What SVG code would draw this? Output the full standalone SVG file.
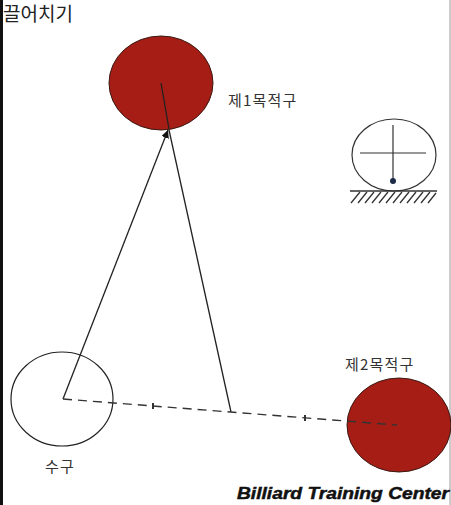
<svg xmlns="http://www.w3.org/2000/svg" width="451" height="505" viewBox="0 0 451 505">
<defs>
<style>
.ln{stroke:#222;stroke-width:1.3;fill:none}
.dash{stroke:#333;stroke-width:1.4;fill:none;stroke-dasharray:9,6}
.red{fill:#a51d15;stroke:#3a1a14;stroke-width:1}
.cue{fill:none;stroke:#222;stroke-width:1.2}
.lbl{font-family:"Noto Sans CJK KR","Noto Sans",sans-serif;font-size:15px;letter-spacing:1.2px;fill:#333}
</style>
<marker id="ah" viewBox="0 0 10 10" refX="10" refY="5" markerWidth="8" markerHeight="8" orient="auto" markerUnits="userSpaceOnUse">
<path d="M0,0 L10,5 L0,10 z" fill="#111"/>
</marker>
</defs>
<rect width="451" height="505" fill="#fff"/>
<rect x="0" y="0" width="3" height="505" fill="#111"/>
<line x1="450" y1="0" x2="450" y2="505" stroke="#999" stroke-width="1"/>
<text x="3" y="21" font-family="Noto Sans CJK KR,sans-serif" font-size="19" fill="#222">끌어치기</text>

<g id="ball1">
<ellipse class="red" cx="161" cy="83" rx="52" ry="47"/>
<text class="lbl" x="228" y="106">제1목적구</text>
</g>
<g id="cueball">
<ellipse class="cue" cx="62" cy="399" rx="51" ry="47"/>
<text class="lbl" x="45" y="472">수구</text>
</g>
<g id="ball2">
<ellipse class="red" cx="399" cy="425" rx="52" ry="47"/>
<text class="lbl" x="345" y="370">제2목적구</text>
</g>

<g id="connectors">
<line class="ln" x1="63" y1="399" x2="168" y2="130" marker-end="url(#ah)"/>
<line class="ln" x1="161" y1="83" x2="169" y2="129"/>
<polyline class="ln" points="169,130 231,412"/>
<line class="dash" x1="63" y1="399" x2="397" y2="425"/>
<line x1="153" y1="403" x2="153" y2="409" stroke="#333" stroke-width="2"/>
<line x1="305" y1="415" x2="305" y2="421" stroke="#333" stroke-width="2"/>
</g>

<g id="sideview">
<ellipse cx="394" cy="155" rx="42" ry="36" fill="none" stroke="#333" stroke-width="1.2"/>
<line x1="360" y1="153" x2="426" y2="153" stroke="#333" stroke-width="1.2"/>
<line x1="393" y1="125" x2="393" y2="181" stroke="#333" stroke-width="1.2"/>
<circle cx="393" cy="181" r="3" fill="#1d2a48"/>
<line x1="350" y1="191" x2="437" y2="191" stroke="#333" stroke-width="1.5"/>
<path d="M351,203 L360,192 M358,203 L367,192 M365,203 L374,192 M372,203 L381,192 M379,203 L388,192 M386,203 L395,192 M393,203 L402,192 M400,203 L409,192 M407,203 L416,192 M414,203 L423,192 M421,203 L430,192 M428,203 L436,193" stroke="#333" stroke-width="1.3"/>
</g>

<text x="237" y="499" font-family="Liberation Sans,Arial,sans-serif" font-weight="bold" font-style="italic" font-size="17" fill="#111" stroke="#111" stroke-width="0.5" textLength="212" lengthAdjust="spacingAndGlyphs">Billiard Training Center</text>
</svg>
